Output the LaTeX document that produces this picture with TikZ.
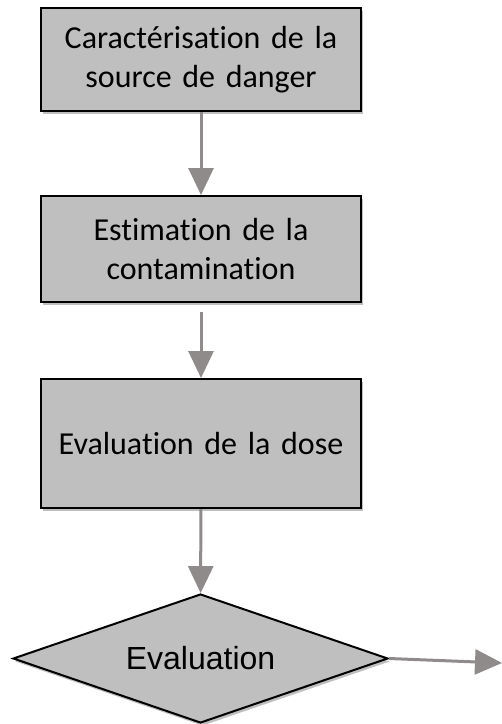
\documentclass[tikz,border=0pt]{standalone}
\usepackage{fontspec}
\setmainfont{Carlito}[Ligatures=NoCommon]
\newfontfamily\arialfont{Liberation Sans}
\usetikzlibrary{shapes.geometric,arrows.meta,shadows}
\definecolor{boxgray}{RGB}{191,191,191}
\definecolor{arrowgray}{RGB}{143,139,139}
\tikzset{
  stepbox/.style={draw=black,line width=1pt,fill=boxgray,minimum width=160pt,text width=150pt,align=center,
    font=\fontsize{16}{19.5}\selectfont,
    drop shadow={shadow xshift=1pt,shadow yshift=-1.5pt,opacity=0.25,fill=black}},
  decision/.style={diamond,aspect=2.9,draw=black,line width=1pt,fill=boxgray,inner sep=0pt,
    minimum width=187.5pt,minimum height=64.5pt,font=\arialfont\fontsize{16}{19}\selectfont,
    drop shadow={shadow xshift=1pt,shadow yshift=-1.5pt,opacity=0.25,fill=black}},
  flow/.style={-{Triangle[length=13.5pt,width=12.5pt]},line width=1.5pt,draw=arrowgray}
}
\begin{document}
\begin{tikzpicture}[x=0.5pt,y=-0.5pt]
            \useasboundingbox (0,0) rectangle (502,724);
            \node[stepbox,minimum height=51.5pt] at (201,59.5) (source) {Caractérisation de la\\source de danger};
            \node[stepbox,minimum height=53pt] at (201,249) (contam) {Estimation de la\\contamination};
            \node[stepbox,minimum height=64.5pt] at (201,443.5) (dose) {Evaluation de la dose};
            \node[decision] at (200.5,658.5) (eval) {Evaluation};
            \coordinate (out) at (502,663);
            \draw[flow] (source) to (contam);
            \draw[flow,shorten <=4.5pt] (contam) to (dose);
            \draw[flow] (dose) to (eval);
            \draw[flow] (eval.east) to (out);
        \end{tikzpicture}
\end{document}
